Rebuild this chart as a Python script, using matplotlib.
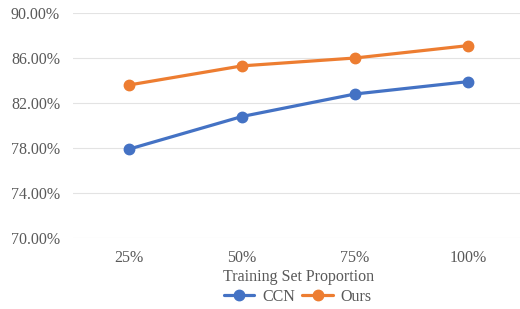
import matplotlib
matplotlib.use("Agg")
import matplotlib.pyplot as plt
from matplotlib.ticker import FuncFormatter

categories = ["25%", "50%", "75%", "100%"]
ccn = [77.9, 80.8, 82.8, 83.9]
ours = [83.6, 85.3, 86.0, 87.1]
yticks = [70, 74, 78, 82, 86, 90]

plt.rcParams['font.family'] = ['Liberation Serif', 'DejaVu Serif']
text_color = '#595959'

W, H = 520, 309
fig = plt.figure(figsize=(W/100, H/100), dpi=100)
ax = fig.add_axes([72.5/W, 1 - 238/H, 452/W, 225/H])

x = list(range(len(categories)))
ax.plot(x, ccn, color='#4472C4', lw=2.3, marker='o', ms=7.5, label='CCN', solid_capstyle='round')
ax.plot(x, ours, color='#ED7D31', lw=2.3, marker='o', ms=7.5, label='Ours', solid_capstyle='round')

ax.set_xlim(-0.5, 3.5)
ax.set_ylim(70, 90)
ax.set_yticks(yticks)
ax.yaxis.set_major_formatter(FuncFormatter(lambda v, p: f"{v:.2f}%"))
ax.set_xticks(x)
ax.set_xticklabels(categories)
ax.grid(axis='y', color='#E3E3E3', lw=0.8)
ax.set_axisbelow(True)
for s in ax.spines.values():
    s.set_visible(False)
ax.tick_params(length=0, labelsize=11.5, colors=text_color, pad=9)
ax.tick_params(axis='x', pad=9)
ax.set_xlabel('Training Set Proportion', fontsize=11.5, color=text_color, labelpad=2)

leg = fig.legend(loc='center', bbox_to_anchor=(298/W, 1 - 297/H), ncol=2, frameon=False,
                 fontsize=11.5, handlelength=1.9, columnspacing=0.45, handletextpad=0.5)
for t in leg.get_texts():
    t.set_color(text_color)

fig.savefig('out.png', dpi=100)
